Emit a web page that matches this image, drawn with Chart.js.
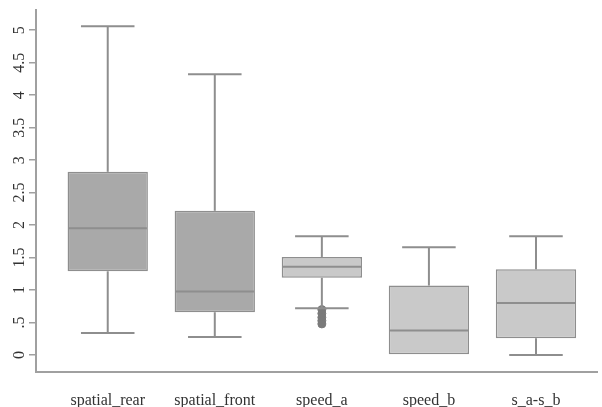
<!DOCTYPE html>
<html>
<head>
<meta charset="utf-8">
<script src="https://cdn.jsdelivr.net/npm/chart.js@4.4.0/dist/chart.umd.min.js"></script>
<style>
  html, body { margin: 0; padding: 0; background: #fff; }
  #wrap { width: 602px; height: 407px; }
</style>
</head>
<body>
<div id="wrap"><canvas id="boxChart"></canvas></div>
<script>
// ------------------- DATA -------------------
const categories = ['spatial_rear', 'spatial_front', 'speed_a', 'speed_b', 's_a-s_b'];
const whiskerLow  = [0.34, 0.28, 0.72, 0.00, 0.00];
const q1          = [1.29, 0.66, 1.19, 0.00, 0.26];
const median      = [1.95, 0.98, 1.36, 0.38, 0.80];
const q3          = [2.82, 2.22, 1.51, 1.07, 1.32];
const whiskerHigh = [5.06, 4.32, 1.83, 1.66, 1.83];
const outliersSpeedA = [0.70, 0.64, 0.58, 0.53, 0.48];
const yTicks      = [0, 0.5, 1, 1.5, 2, 2.5, 3, 3.5, 4, 4.5, 5];
const yTickLabels = ['0', '.5', '1', '1.5', '2', '2.5', '3', '3.5', '4', '4.5', '5'];

// ------------------- STYLE -------------------
const boxColors = ['#a9a9a9', '#a9a9a9', '#c9c9c9', '#c9c9c9', '#c9c9c9'];
const lineColor = '#8e8e8e';
const axisColor = '#a0a0a0';
const capWidth = 0.5; // in x units
const serif = 'Liberation Serif';

// whiskers, caps and median lines, drawn on top of the boxes
const whiskerPlugin = {
    id: 'whiskers',
    afterDatasetsDraw(chart) {
        const ctx = chart.ctx;
        const xs = chart.scales.x;
        const ys = chart.scales.y;
        const bars = chart.getDatasetMeta(0).data;

        const line = (x1, y1, x2, y2) => {
            ctx.beginPath();
            ctx.moveTo(x1, y1);
            ctx.lineTo(x2, y2);
            ctx.stroke();
        };

        ctx.save();
        ctx.strokeStyle = lineColor;
        ctx.lineWidth = 2;
        categories.forEach((_, i) => {
            const cx = xs.getPixelForValue(i + 1);
            const capHalf = xs.getPixelForValue(i + 1 + capWidth / 2) - cx;
            const boxHalf = bars[i].width / 2;
            const yHi = ys.getPixelForValue(whiskerHigh[i]);
            const yLo = ys.getPixelForValue(whiskerLow[i]);

            if (whiskerHigh[i] > q3[i]) {
                line(cx, ys.getPixelForValue(q3[i]), cx, yHi);
                line(cx - capHalf, yHi, cx + capHalf, yHi);
            }
            // a whisker that ends on the box edge is hidden by the box
            if (whiskerLow[i] < q1[i]) {
                line(cx, ys.getPixelForValue(q1[i]), cx, yLo);
                line(cx - capHalf, yLo, cx + capHalf, yLo);
            }

            const ym = ys.getPixelForValue(median[i]);
            line(cx - boxHalf + 1, ym, cx + boxHalf - 1, ym);
        });
        ctx.restore();
    }
};

// ------------------- CHART -------------------
const ctx = document.getElementById('boxChart').getContext('2d');

new Chart(ctx, {
    type: 'bar',
    data: {
        datasets: [{
            label: 'boxes',
            data: categories.map((_, i) => ({ x: i + 1, y: [q1[i], q3[i]] })),
            backgroundColor: boxColors,
            borderColor: lineColor,
            borderWidth: 1.5,
            borderSkipped: false,
            barPercentage: 0.75,
            categoryPercentage: 1
        }, {
            type: 'scatter',
            label: 'outliers',
            data: outliersSpeedA.map(v => ({ x: 3, y: v })),
            pointRadius: 4,
            pointBackgroundColor: '#7a7a7a',
            pointBorderColor: '#7a7a7a',
            pointBorderWidth: 1
        }]
    },
    options: {
        responsive: true,
        maintainAspectRatio: false,
        animation: false,
        layout: { padding: { top: 10, right: 0, bottom: 0, left: 0 } },
        plugins: {
            legend: { display: false },
            tooltip: { enabled: false }
        },
        scales: {
            x: {
                type: 'linear',
                offset: false,
                min: 0.33,
                max: 5.57,
                afterBuildTicks: s => { s.ticks = categories.map((_, i) => ({ value: i + 1 })); },
                afterFit: s => { s.height = 35; },
                grid: { drawOnChartArea: false, drawTicks: false, offset: false },
                border: { display: true, color: axisColor, width: 2 },
                ticks: {
                    maxRotation: 0,
                    autoSkip: false,
                    padding: 19,
                    color: '#333',
                    font: { family: serif, size: 16 },
                    callback: (v, i) => categories[i]
                }
            },
            y: {
                min: -0.26,
                max: 5.31,
                afterBuildTicks: s => { s.ticks = yTicks.map(v => ({ value: v })); },
                afterFit: s => { s.width = 36; },
                grid: { drawOnChartArea: false, drawTicks: true, tickLength: 7, color: axisColor, lineWidth: 1.5 },
                border: { display: true, color: axisColor, width: 2 },
                ticks: {
                    minRotation: 90,
                    maxRotation: 90,
                    crossAlign: 'center',
                    padding: -1,
                    color: '#333',
                    font: { family: serif, size: 16 },
                    callback: (v, i) => yTickLabels[i]
                }
            }
        }
    },
    plugins: [whiskerPlugin]
});
</script>
</body>
</html>
